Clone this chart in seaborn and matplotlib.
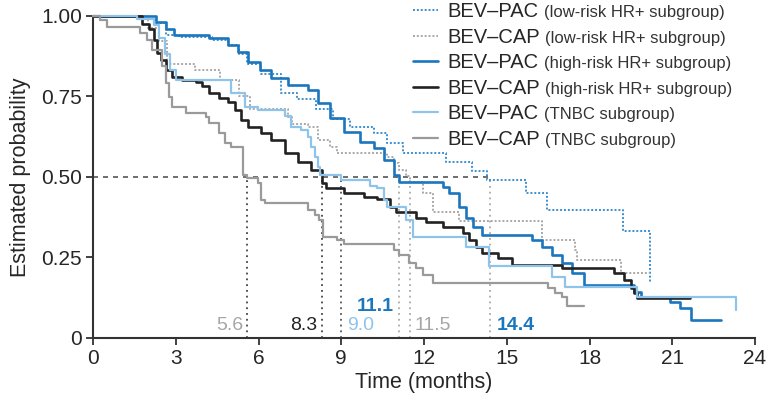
import matplotlib
matplotlib.use('Agg')
import matplotlib.pyplot as plt
import seaborn as sns

# Kaplan-Meier steps (time in months, estimated probability)
lo_pac_t = [0, 1.7, 2.3, 2.65, 3.1, 4.3, 4.9, 5.3, 5.6, 6.1, 6.8, 7.4, 8.1, 8.7, 9.3, 10.2,
            10.65, 11.25, 12.8, 13.75, 14.3, 15.7, 16.45, 19.2, 20.2]
lo_pac_s = [1.0, 0.99, 0.978, 0.941, 0.932, 0.925, 0.91, 0.88, 0.85, 0.82, 0.76, 0.74, 0.71, 0.68,
            0.655, 0.637, 0.605, 0.575, 0.547, 0.519, 0.491, 0.45, 0.398, 0.332, 0.171]

lo_cap_t = [0, 2.0, 2.4, 2.7, 3.7, 4.6, 5.3, 5.7, 7.06, 7.2, 7.78, 8.14, 8.6, 8.85, 10.65, 10.9,
            11.11, 11.36, 11.5, 11.97, 12.33, 13.26, 16.27, 17.46, 17.56, 19.14, 20.2]
lo_cap_s = [1.0, 0.96, 0.92, 0.85, 0.83, 0.80, 0.75, 0.71, 0.686, 0.665, 0.655, 0.615, 0.593, 0.575,
            0.562, 0.543, 0.522, 0.503, 0.484, 0.45, 0.391, 0.363, 0.304, 0.273, 0.242, 0.202, 0.202]

hi_pac_t = [0, 2.29, 2.65, 2.94, 4.19, 4.91, 5.27, 5.63, 6.06, 6.45, 7.06, 7.78, 8.14, 8.6, 9.1,
            9.68, 10.18, 10.54, 10.9, 11.11, 12.69, 12.9, 13.26, 13.51, 13.76, 14.12, 15.91, 16.27,
            16.63, 16.99, 17.35, 17.81, 19.6, 19.86, 20.93, 21.29, 21.68, 22.76]
hi_pac_s = [1.0, 0.98, 0.957, 0.94, 0.93, 0.91, 0.888, 0.857, 0.832, 0.807, 0.786, 0.77, 0.73, 0.683,
            0.64, 0.609, 0.59, 0.553, 0.506, 0.485, 0.469, 0.45, 0.407, 0.373, 0.345, 0.32, 0.304,
            0.283, 0.258, 0.233, 0.2, 0.165, 0.143, 0.127, 0.112, 0.093, 0.056, 0.056]

hi_cap_t = [0, 1.79, 2.04, 2.22, 2.33, 2.47, 2.65, 2.87, 3.23, 3.73, 3.94, 4.19, 4.55, 4.91, 5.16,
            5.38, 5.63, 6.09, 6.45, 6.95, 7.42, 7.89, 8.3, 8.45, 9.1, 9.82, 10.29, 10.75, 11.0,
            11.72, 12.08, 12.69, 13.41, 13.62, 13.87, 14.12, 14.7, 15.2, 16.99, 18.89, 19.25, 19.5,
            19.61, 19.71, 21.65]
hi_cap_s = [1.0, 0.975, 0.957, 0.925, 0.885, 0.863, 0.832, 0.81, 0.8, 0.795, 0.78, 0.761, 0.745,
            0.733, 0.708, 0.677, 0.655, 0.637, 0.615, 0.575, 0.547, 0.522, 0.481, 0.466, 0.45, 0.438,
            0.43, 0.407, 0.391, 0.373, 0.36, 0.345, 0.326, 0.304, 0.283, 0.264, 0.248, 0.227, 0.217,
            0.2, 0.18, 0.155, 0.14, 0.124, 0.124]

tn_pac_t = [0, 1.6, 2.2, 2.4, 2.6, 2.8, 3.0, 4.8, 5.02, 5.52, 5.99, 6.95, 7.17, 7.53, 7.78, 7.89,
            8.03, 8.14, 8.24, 9.0, 10.04, 10.29, 10.54, 10.65, 11.36, 11.61, 13.51, 14.34, 16.63,
            17.1, 19.71, 23.3]
tn_pac_s = [1.0, 0.99, 0.97, 0.93, 0.88, 0.83, 0.8, 0.8, 0.761, 0.717, 0.708, 0.687, 0.655, 0.646,
            0.624, 0.593, 0.562, 0.531, 0.506, 0.49, 0.472, 0.466, 0.429, 0.407, 0.366, 0.314, 0.283,
            0.224, 0.19, 0.158, 0.127, 0.087]

tn_cap_t = [0, 0.25, 0.5, 1.7, 1.95, 2.15, 2.51, 2.65, 2.76, 2.87, 3.37, 4.09, 4.19, 4.55, 4.8,
            5.02, 5.45, 5.6, 5.99, 6.09, 6.24, 7.78, 8.03, 8.21, 8.32, 8.85, 9.1, 10.9, 11.11, 11.47,
            11.72, 11.97, 12.33, 16.49, 16.74, 16.99, 17.2, 17.81]
tn_cap_s = [1.0, 0.985, 0.963, 0.947, 0.925, 0.894, 0.842, 0.792, 0.748, 0.717, 0.699, 0.686, 0.668,
            0.637, 0.606, 0.593, 0.505, 0.497, 0.481, 0.429, 0.419, 0.398, 0.382, 0.366, 0.314, 0.304,
            0.292, 0.273, 0.258, 0.233, 0.217, 0.196, 0.171, 0.155, 0.14, 0.127, 0.1, 0.1]

arms = ['BEV\u2013PAC', 'BEV\u2013CAP', 'BEV\u2013PAC', 'BEV\u2013CAP', 'BEV\u2013PAC', 'BEV\u2013CAP']
subgroups = ['(low-risk HR+ subgroup)', '(low-risk HR+ subgroup)', '(high-risk HR+ subgroup)',
             '(high-risk HR+ subgroup)', '(TNBC subgroup)', '(TNBC subgroup)']

medians = [5.6, 8.3, 9.0, 11.1, 11.5, 14.4]
median_labels = ['5.6', '8.3', '9.0', '11.1', '11.5', '14.4']

DARK_BLUE = '#1b76bd'
DOT_BLUE = '#3b8fd0'
LIGHT_BLUE = '#8fc4ea'
BLACK = '#222222'
GRAY = '#9a9a9a'
DOT_GRAY = '#a8a8a8'


def main():
    sns.set_style('ticks')
    plt.rcParams['font.family'] = ['Liberation Sans', 'DejaVu Sans']

    fig = plt.figure(figsize=(7.68, 4.03), dpi=100)
    ax = fig.add_axes([0.1211, 0.1613, 0.862, 0.8002])

    series = [
        (lo_pac_t, lo_pac_s, DOT_BLUE, (0, (1, 1)), 1.4),
        (lo_cap_t, lo_cap_s, DOT_GRAY, (0, (1, 1)), 1.4),
        (hi_pac_t, hi_pac_s, DARK_BLUE, '-', 1.9),
        (hi_cap_t, hi_cap_s, BLACK, '-', 1.9),
        (tn_pac_t, tn_pac_s, LIGHT_BLUE, '-', 1.6),
        (tn_cap_t, tn_cap_s, GRAY, '-', 1.6),
    ]

    # median guide lines
    ax.plot([0, medians[-1]], [0.5, 0.5], color='#555555', lw=1.2, ls=(0, (3, 3)), zorder=1)
    guide_cols = ['#444444', '#444444', '#555555', '#aaaaaa', '#aaaaaa', '#aaaaaa']
    for m, c in zip(medians, guide_cols):
        ax.plot([m, m], [0, 0.5], color=c, lw=1.3, ls=(0, (1, 2.2)), zorder=1)

    for i, (t, s, col, ls, lw) in enumerate(series):
        sns.lineplot(x=t, y=s, ax=ax, color=col, linestyle=ls, linewidth=lw, sort=False,
                     estimator=None, drawstyle='steps-post', label=arms[i], clip_on=False,
                     zorder=3)

    # median values
    mtxt = dict(fontsize=14, va='center')
    ax.text(5.45, 0.04, median_labels[0], color='#a6a6a6', ha='right', **mtxt)
    ax.text(8.12, 0.04, median_labels[1], color=BLACK, ha='right', **mtxt)
    ax.text(9.2, 0.04, median_labels[2], color=LIGHT_BLUE, ha='left', **mtxt)
    ax.text(10.9, 0.097, median_labels[3], color=DARK_BLUE, ha='right', fontweight='bold', **mtxt)
    ax.text(11.65, 0.04, median_labels[4], color='#a6a6a6', ha='left', **mtxt)
    ax.text(14.65, 0.04, median_labels[5], color=DARK_BLUE, ha='left', fontweight='bold', **mtxt)

    ax.set_xlim(0, 24)
    ax.set_ylim(0, 1.0)
    ax.set_xticks(range(0, 25, 3))
    ax.set_yticks([0, 0.25, 0.5, 0.75, 1.0])
    ax.set_yticklabels(['0', '0.25', '0.50', '0.75', '1.00'])
    ax.tick_params(labelsize=15, length=5, width=1.3, color='#333333', pad=3)
    for side in ['left', 'bottom']:
        ax.spines[side].set_linewidth(1.5)
        ax.spines[side].set_color('#333333')
    sns.despine(ax=ax)
    ax.set_xlabel('Time (months)', fontsize=15.5, labelpad=3)
    ax.set_ylabel('Estimated probability', fontsize=15.5, labelpad=7)

    handles, labels = ax.get_legend_handles_labels()
    leg = ax.legend(handles, labels, loc='upper left', bbox_to_anchor=(0.538, 0.994),
                    bbox_transform=fig.transFigure, frameon=False, fontsize=14.5,
                    handlelength=1.25, handletextpad=0.45, labelspacing=0.32, borderpad=0,
                    borderaxespad=0)

    # smaller subgroup text after each legend entry
    fig.canvas.draw()
    renderer = fig.canvas.get_renderer()
    for txt, sub in zip(leg.get_texts(), subgroups):
        bb = txt.get_window_extent(renderer)
        x, y = fig.transFigure.inverted().transform((bb.x1 + 5, bb.y0 + 1))
        fig.text(x, y, sub, fontsize=12, color='#333333', va='bottom', ha='left')

    plt.savefig('out.png', dpi=100)


if __name__ == '__main__':
    main()
